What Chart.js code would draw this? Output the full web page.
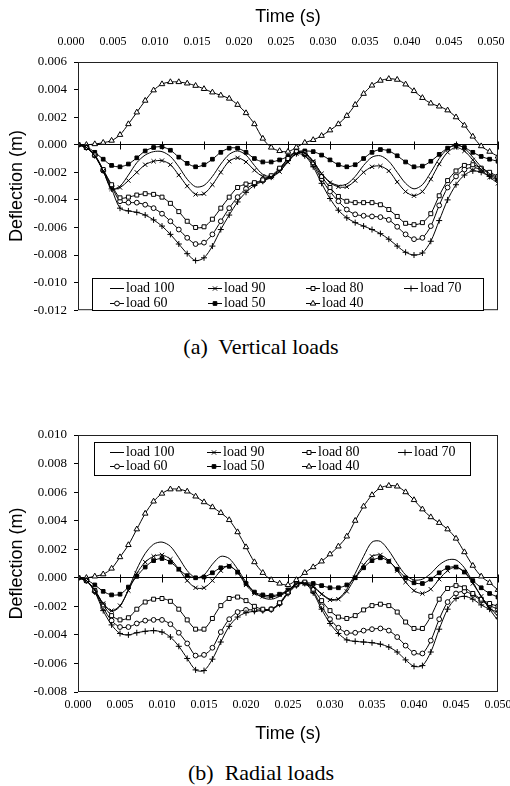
<!DOCTYPE html>
<html>
<head>
<meta charset="utf-8">
<script src="https://cdn.jsdelivr.net/npm/chart.js@4.4.1/dist/chart.umd.min.js"></script>
<style>
  body { margin: 0; background: #fff; width: 510px; height: 786px; overflow: hidden; position: relative; }
  canvas { position: absolute; left: 0; }
  #vert { top: 0; }
  #rad { top: 380px; }
  .cap { position: absolute; left: 0; width: 522px; text-align: center; font-family: 'Liberation Serif', serif; font-size: 22px; line-height: 28px; color: #000; }
</style>
</head>
<body>
<canvas id="vert" width="510" height="325"></canvas>
<div class="cap" style="top:333px">(a)&nbsp; Vertical loads</div>
<canvas id="rad" width="510" height="370"></canvas>
<div class="cap" style="top:759px">(b)&nbsp; Radial loads</div>

<script>
// time in ms, deflection in mm (tick labels show s and m)
const times = [0,1,2,3,4,5,6,7,8,9,10,11,12,13,14,15,16,17,18,19,20,21,22,23,24,25,26,27,28,29,30,31,32,33,34,35,36,37,38,39,40,41,42,43,44,45,46,47,48,49,50]
const loadNames = ['load 100', 'load 90', 'load 80', 'load 70', 'load 60', 'load 50', 'load 40']

// (a) vertical loads
const vert100 = [0,-0.2,-0.8,-1.9,-3.2,-3.0,-2.2,-1.3,-0.75,-0.5,-0.5, -0.85,-1.6,-2.5,-3.05,-2.95,-2.3,-1.4,-0.7,-0.45,-0.75, -1.5,-2.15,-2.3,-1.9,-1.2,-0.6,-0.6,-1.2,-2.1,-2.7, -2.95,-2.85,-2.3,-1.5,-0.9,-0.8,-1.2,-2.0,-2.8,-3.2, -2.9,-2.0,-1.0,-0.3,0.0,-0.25,-0.9,-1.6,-2.1,-2.6]
const vert90 = [0,-0.2,-0.8,-1.9,-3.2,-3.1,-2.6,-2.0,-1.45,-1.2,-1.15, -1.45,-2.2,-3.0,-3.6,-3.55,-2.9,-2.0,-1.2,-0.95,-1.25, -1.85,-2.3,-2.35,-1.95,-1.25,-0.65,-0.6,-1.2,-2.1,-2.75, -3.05,-3.05,-2.6,-2.0,-1.6,-1.55,-1.9,-2.7,-3.4,-3.7, -3.4,-2.5,-1.4,-0.55,-0.2,-0.45,-1.1,-1.8,-2.35,-2.8]
const vert80 = [0,-0.2,-0.75,-1.8,-2.9,-3.85,-3.8,-3.65,-3.55,-3.6,-3.8, -4.25,-4.85,-5.55,-6.0,-5.95,-5.4,-4.6,-3.8,-3.1,-2.85, -2.75,-2.55,-2.25,-1.7,-1.0,-0.5,-0.6,-1.3,-2.3,-3.1, -3.75,-4.1,-4.2,-4.2,-4.2,-4.35,-4.7,-5.2,-5.7,-5.8, -5.65,-5.0,-3.7,-2.6,-1.9,-1.5,-1.45,-1.7,-2.0,-2.3]
const vert70 = [0,-0.2,-0.8,-1.9,-3.2,-4.6,-4.8,-4.9,-5.1,-5.45,-5.9, -6.5,-7.2,-7.9,-8.4,-8.2,-7.35,-6.15,-5.1,-4.15,-3.45, -2.95,-2.65,-2.35,-1.8,-1.15,-0.65,-0.8,-1.6,-2.8,-3.9, -4.75,-5.3,-5.65,-5.9,-6.15,-6.45,-6.85,-7.35,-7.8,-8.0, -7.85,-7.0,-5.5,-4.0,-2.9,-2.2,-1.9,-2.0,-2.3,-2.6]
const vert60 = [0,-0.2,-0.75,-1.85,-3.0,-4.1,-4.2,-4.2,-4.35,-4.6,-5.0, -5.55,-6.15,-6.75,-7.2,-7.1,-6.5,-5.55,-4.6,-3.8,-3.2, -2.85,-2.6,-2.3,-1.75,-1.05,-0.55,-0.7,-1.45,-2.5,-3.4, -4.1,-4.7,-5.05,-5.15,-5.2,-5.25,-5.45,-5.95,-6.5,-6.85, -6.75,-5.9,-4.4,-3.1,-2.3,-1.8,-1.65,-1.8,-2.1,-2.4]
const vert50 = [0,-0.15,-0.55,-1.05,-1.5,-1.6,-1.4,-0.95,-0.45,-0.2,-0.15, -0.4,-0.9,-1.35,-1.6,-1.45,-1.05,-0.55,-0.25,-0.25,-0.55, -1.0,-1.25,-1.25,-1.1,-0.85,-0.5,-0.45,-0.5,-0.75,-1.1, -1.45,-1.6,-1.45,-1.0,-0.55,-0.35,-0.45,-0.8,-1.25,-1.6, -1.55,-1.2,-0.7,-0.25,-0.05,-0.2,-0.55,-0.85,-1.05,-1.2]
const vert40 = [0,0,0.05,0.15,0.3,0.72,1.5,2.35,3.2,3.95,4.4, 4.55,4.55,4.45,4.28,4.05,3.8,3.58,3.35,2.9,2.3, 1.5,0.45,-0.2,-0.45,-0.5,-0.2,0.15,0.35,0.65,1.05, 1.5,2.1,2.9,3.7,4.3,4.65,4.78,4.72,4.38,3.9, 3.4,3.0,2.78,2.5,2.0,1.4,0.6,-0.1,-0.5,-0.85]

// (b) radial loads
const rad100 = [0,-0.2,-0.9,-1.8,-2.35,-2.0,-0.8,0.6,1.7,2.35,2.5, 2.2,1.4,0.5,0.0,0.2,0.95,1.5,1.35,0.6,-0.3, -1.0,-1.4,-1.5,-1.3,-0.9,-0.4,-0.35,-0.6,-1.1,-1.5, -1.45,-0.8,0.3,1.5,2.5,2.55,1.9,1.0,0.2,-0.15, -0.1,0.3,0.9,1.25,1.25,0.7,-0.3,-1.3,-2.2,-3.0]
const rad90 = [0,-0.2,-0.85,-1.8,-2.3,-1.95,-0.9,0.3,1.1,1.5,1.6, 1.3,0.6,-0.2,-0.7,-0.7,-0.2,0.5,0.85,0.35,-0.5, -1.1,-1.3,-1.35,-1.2,-0.9,-0.45,-0.4,-0.65,-1.15,-1.55, -1.5,-0.95,0.0,0.9,1.5,1.6,1.2,0.5,-0.3,-0.9, -1.1,-0.8,-0.1,0.5,0.75,0.4,-0.4,-1.3,-2.1,-2.7]
const rad80 = [0,-0.2,-0.9,-1.9,-2.65,-2.95,-2.8,-2.2,-1.7,-1.5,-1.45, -1.65,-2.2,-2.95,-3.6,-3.6,-2.85,-1.95,-1.45,-1.35,-1.6, -2.0,-2.2,-2.2,-1.75,-1.0,-0.45,-0.3,-0.8,-1.6,-2.3, -2.75,-2.85,-2.65,-2.25,-1.95,-1.85,-1.95,-2.4,-3.1,-3.55, -3.55,-2.7,-1.5,-0.75,-0.55,-0.7,-1.1,-1.5,-1.8,-2.0]
const rad70 = [0,-0.2,-1.0,-2.3,-3.3,-3.9,-4.0,-3.85,-3.75,-3.7,-3.8, -4.15,-4.8,-5.65,-6.45,-6.5,-5.7,-4.5,-3.4,-2.75,-2.45, -2.35,-2.3,-2.25,-1.85,-1.1,-0.55,-0.4,-1.05,-2.2,-3.2, -3.9,-4.35,-4.45,-4.5,-4.55,-4.65,-4.85,-5.2,-5.75,-6.2, -6.15,-5.2,-3.6,-2.2,-1.45,-1.3,-1.5,-1.9,-2.2,-2.4]
const rad60 = [0,-0.2,-0.95,-2.1,-3.0,-3.45,-3.45,-3.2,-3.0,-2.95,-2.95, -3.25,-3.85,-4.6,-5.45,-5.4,-4.9,-3.8,-2.9,-2.4,-2.25, -2.25,-2.25,-2.2,-1.8,-1.05,-0.5,-0.35,-0.95,-2.0,-2.9, -3.5,-3.85,-3.85,-3.7,-3.6,-3.55,-3.7,-4.15,-4.75,-5.25, -5.3,-4.4,-2.9,-1.7,-1.1,-0.95,-1.2,-1.6,-1.95,-2.2]
const rad50 = [0,-0.15,-0.5,-0.95,-1.2,-1.15,-0.65,0.1,0.75,1.2,1.35, 1.1,0.6,0.15,0.0,0.05,0.35,0.7,0.8,0.4,-0.4, -1.0,-1.2,-1.25,-1.15,-0.85,-0.45,-0.35,-0.4,-0.55,-0.7, -0.7,-0.5,0.0,0.7,1.2,1.4,1.15,0.6,0.0,-0.35, -0.4,-0.1,0.35,0.7,0.75,0.4,-0.2,-0.7,-1.1,-1.35]
const rad40 = [0,0,0.1,0.25,0.65,1.45,2.3,3.4,4.5,5.35,5.9, 6.2,6.2,6.05,5.7,5.3,4.95,4.55,4.05,3.2,2.15, 1.1,0.35,-0.15,-0.4,-0.5,-0.15,0.35,0.75,1.15,1.65, 2.2,2.9,4.0,5.0,5.8,6.3,6.45,6.4,6.0,5.45, 4.8,4.25,3.85,3.4,2.75,1.8,0.85,0.1,-0.35,-0.85]

const yTicksVert = { min: -12, max: 6, step: 2 }
const yTicksRad = { min: -8, max: 10, step: 2 }

// marker look for each load, same order as loadNames
const markers = [
    { style: false, r: 0, fill: '#000' },
    { style: 'crossRot', r: 3, fill: '#000' },
    { style: 'rect', r: 2.8, fill: '#fff' },
    { style: 'cross', r: 3, fill: '#000' },
    { style: 'circle', r: 2.4, fill: '#fff' },
    { style: 'rect', r: 2.6, fill: '#000' },
    { style: 'triangle', r: 3.2, fill: '#fff' }
]

const serif = 'Liberation Serif'
const sans = 'Liberation Sans'

function makeDatasets(series) {
    return series.map((vals, i) => ({
        label: loadNames[i],
        data: times.map((t, j) => ({ x: t, y: vals[j] })),
        borderColor: '#000',
        borderWidth: 1,
        tension: 0.3,
        fill: false,
        pointStyle: markers[i].style,
        pointRadius: markers[i].r,
        pointBorderWidth: 1,
        pointBorderColor: '#000',
        pointBackgroundColor: markers[i].fill
    }))
}

// frame round the plot + little ticks on the zero line
const frameTicks = {
    id: 'frameTicks',
    afterDatasetsDraw(chart) {
        const { ctx, chartArea, scales } = chart
        const y0 = Math.round(scales.y.getPixelForValue(0)) + 0.5
        ctx.save()
        ctx.strokeStyle = '#000'
        ctx.lineWidth = 1
        scales.x.ticks.forEach(t => {
            const px = Math.round(scales.x.getPixelForValue(t.value)) + 0.5
            ctx.beginPath()
            ctx.moveTo(px, y0 - 4)
            ctx.lineTo(px, y0 + 4)
            ctx.stroke()
        })
        ctx.strokeStyle = '#222'
        ctx.strokeRect(chartArea.left + 0.5, chartArea.top + 0.5, chartArea.width - 1, chartArea.height - 1)
        ctx.restore()
    }
}

// boxed legend inside the plot, 4 columns
const boxLegend = {
    id: 'boxLegend',
    afterDraw(chart, args, opts) {
        const ctx = chart.ctx
        ctx.save()
        ctx.fillStyle = '#fff'
        ctx.fillRect(opts.left, opts.top, opts.right - opts.left, opts.bottom - opts.top)
        ctx.strokeStyle = '#000'
        ctx.lineWidth = 1
        ctx.strokeRect(opts.left + 0.5, opts.top + 0.5, opts.right - opts.left, opts.bottom - opts.top)
        ctx.font = '14px "' + serif + '"'
        ctx.textBaseline = 'middle'
        chart.data.datasets.forEach((ds, i) => {
            const x = opts.cols[i % 4]
            const y = opts.rows[Math.floor(i / 4)]
            ctx.strokeStyle = '#000'
            ctx.beginPath()
            ctx.moveTo(x, y + 0.5)
            ctx.lineTo(x + 14, y + 0.5)
            ctx.stroke()
            if (ds.pointRadius > 0 && Chart.helpers && Chart.helpers.drawPoint) {
                ctx.fillStyle = ds.pointBackgroundColor
                Chart.helpers.drawPoint(ctx, { pointStyle: ds.pointStyle, radius: ds.pointRadius, borderWidth: 1, rotation: 0 }, x + 7, y + 0.5)
            }
            ctx.fillStyle = '#000'
            ctx.fillText(ds.label, x + 16, y)
        })
        ctx.restore()
    }
}

function makeChart(id, series, yr, top, legendBox) {
    const xAxis = {
        type: 'linear',
        position: top ? 'top' : 'bottom',
        min: 0,
        max: 50,
        ticks: {
            stepSize: 5,
            autoSkip: false,
            maxRotation: 0,
            padding: top ? 13 : 6,
            labelOffset: top ? -7 : 0,
            color: '#000',
            font: { family: serif, size: 12 },
            callback: v => (v / 1000).toFixed(3)
        },
        grid: { drawOnChartArea: false, drawTicks: false },
        border: { display: false },
        title: {
            display: true,
            text: 'Time (s)',
            color: '#000',
            font: { family: sans, size: 18 },
            padding: top ? { top: 6, bottom: 0 } : { top: 0, bottom: 5 }
        },
        afterFit: s => {
            s.height = top ? 62 : 58
            s.paddingLeft = 0
            s.paddingRight = 0
        }
    }
    const yAxis = {
        type: 'linear',
        min: yr.min,
        max: yr.max,
        ticks: {
            stepSize: yr.step,
            padding: 7,
            color: '#000',
            font: { family: serif, size: 13 },
            callback: v => (v / 1000).toFixed(3)
        },
        grid: {
            color: c => (c.tick && Math.abs(c.tick.value) < 1e-9) ? '#000' : 'rgba(0,0,0,0)',
            tickColor: '#000',
            tickLength: 4,
            lineWidth: 1
        },
        border: { display: false },
        title: {
            display: true,
            text: 'Deflection (m)',
            color: '#000',
            font: { family: sans, size: 18 },
            padding: { top: 6, bottom: 0 }
        },
        afterFit: s => { s.width = 78 }
    }
    return new Chart(document.getElementById(id), {
        type: 'line',
        data: { datasets: makeDatasets(series) },
        options: {
            responsive: false,
            animation: false,
            events: [],
            devicePixelRatio: 1,
            layout: { padding: top ? { left: 0, right: 12, top: 0, bottom: 12 } : { left: 0, right: 12, top: 55, bottom: 0 } },
            scales: { x: xAxis, y: yAxis },
            plugins: {
                legend: { display: false },
                tooltip: { enabled: false },
                boxLegend: legendBox
            }
        },
        plugins: [frameTicks, boxLegend]
    })
}

makeChart('vert', [vert100, vert90, vert80, vert70, vert60, vert50, vert40], yTicksVert, true,
    { left: 92, top: 278, right: 483, bottom: 310, cols: [110, 208, 306, 404], rows: [288, 303] })
makeChart('rad', [rad100, rad90, rad80, rad70, rad60, rad50, rad40], yTicksRad, false,
    { left: 94, top: 62, right: 470, bottom: 95, cols: [110, 207, 302, 398], rows: [72, 86] })
</script>
</body>
</html>
